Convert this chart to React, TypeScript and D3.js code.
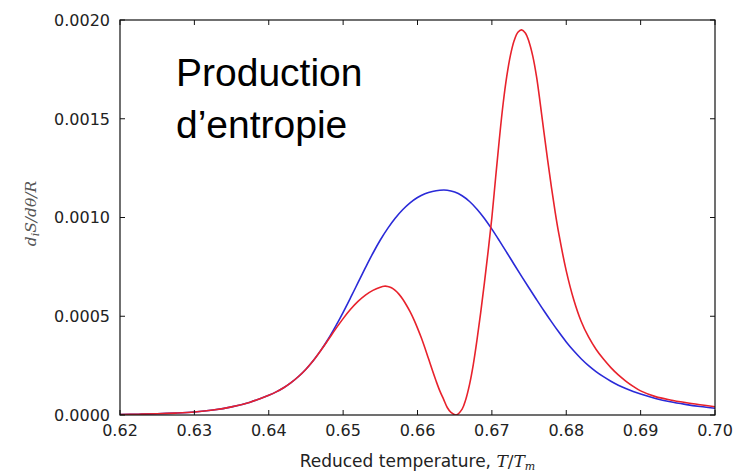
import React from "react";
import * as d3 from "d3";

// Reduced temperature T/Tm samples and entropy production d_iS/dθ/R
const blueT = [0.620, 0.6225, 0.625, 0.6275, 0.630, 0.6325, 0.635, 0.6375, 0.640, 0.641, 0.642, 0.643, 0.644, 0.645, 0.646, 0.647, 0.648, 0.649, 0.650, 0.651, 0.652, 0.653, 0.654, 0.655, 0.656, 0.657, 0.658, 0.659, 0.660, 0.661, 0.662, 0.663, 0.664, 0.665, 0.666, 0.667, 0.668, 0.669, 0.670, 0.671, 0.672, 0.673, 0.674, 0.675, 0.676, 0.677, 0.678, 0.679, 0.680, 0.681, 0.682, 0.683, 0.684, 0.685, 0.686, 0.687, 0.688, 0.689, 0.690, 0.692, 0.694, 0.696, 0.698, 0.700];
const blueS = [2.5e-6, 4e-6, 6e-6, 9.5e-6, 15e-6, 25e-6, 41e-6, 65e-6, 100e-6, 117e-6, 138e-6, 164e-6, 195e-6, 232e-6, 276e-6, 327e-6, 385e-6, 450e-6, 520e-6, 594e-6, 670e-6, 746e-6, 819e-6, 886e-6, 945e-6, 996e-6, 1039e-6, 1074e-6, 1101e-6, 1120e-6, 1132e-6, 1138e-6, 1138e-6, 1129e-6, 1110e-6, 1081e-6, 1042e-6, 995e-6, 941e-6, 883e-6, 823e-6, 762e-6, 702e-6, 643e-6, 585e-6, 528e-6, 473e-6, 420e-6, 370e-6, 325e-6, 285e-6, 250e-6, 220e-6, 194e-6, 171e-6, 151e-6, 134e-6, 119e-6, 106e-6, 84e-6, 67e-6, 54e-6, 43e-6, 34e-6];

const redT = [0.620, 0.6225, 0.625, 0.6275, 0.630, 0.6325, 0.635, 0.6375, 0.640, 0.641, 0.642, 0.643, 0.644, 0.645, 0.646, 0.647, 0.648, 0.649, 0.650, 0.651, 0.652, 0.653, 0.654, 0.655, 0.6555, 0.656, 0.6565, 0.657, 0.6575, 0.658, 0.6585, 0.659, 0.6595, 0.660, 0.6605, 0.661, 0.6615, 0.662, 0.6625, 0.663, 0.6635, 0.664, 0.6645, 0.6652, 0.666, 0.6665, 0.667, 0.6675, 0.668, 0.6685, 0.669, 0.6695, 0.670, 0.6705, 0.671, 0.6715, 0.672, 0.6725, 0.673, 0.6735, 0.674, 0.6745, 0.675, 0.6755, 0.676, 0.6765, 0.677, 0.6775, 0.678, 0.6785, 0.679, 0.680, 0.681, 0.682, 0.683, 0.684, 0.685, 0.686, 0.687, 0.688, 0.689, 0.690, 0.692, 0.694, 0.696, 0.698, 0.700];
const redS = [2.5e-6, 4e-6, 6e-6, 9.5e-6, 15e-6, 25e-6, 41e-6, 65e-6, 100e-6, 117e-6, 138e-6, 164e-6, 195e-6, 232e-6, 276e-6, 327e-6, 381e-6, 436e-6, 488e-6, 535e-6, 575e-6, 607e-6, 631e-6, 647e-6, 652e-6, 651e-6, 644e-6, 631e-6, 612e-6, 587e-6, 557e-6, 523e-6, 484e-6, 440e-6, 392e-6, 339e-6, 283e-6, 226e-6, 172e-6, 122e-6, 80e-6, 38e-6, 13e-6, 0, 30e-6, 80e-6, 155e-6, 255e-6, 380e-6, 520e-6, 670e-6, 830e-6, 1000e-6, 1200e-6, 1395e-6, 1572e-6, 1714e-6, 1822e-6, 1896e-6, 1938e-6, 1950e-6, 1934e-6, 1889e-6, 1817e-6, 1714e-6, 1578e-6, 1432e-6, 1290e-6, 1155e-6, 1030e-6, 918e-6, 730e-6, 585e-6, 475e-6, 395e-6, 333e-6, 283e-6, 240e-6, 203e-6, 172e-6, 145e-6, 122e-6, 93e-6, 76e-6, 63e-6, 52e-6, 42e-6];

const xTicks = [0.62, 0.63, 0.64, 0.65, 0.66, 0.67, 0.68, 0.69, 0.70];
const yTicks = [0.0, 0.0005, 0.001, 0.0015, 0.002];

const W = 733;
const H = 475;
const M = { left: 120, right: 18, top: 20, bottom: 60 };

export default function App() {
  const x = d3.scaleLinear().domain([0.62, 0.70]).range([M.left, W - M.right]);
  const y = d3.scaleLinear().domain([0, 0.002]).range([H - M.bottom, M.top]);

  const line = d3
    .line<[number, number]>()
    .x((d) => x(d[0]))
    .y((d) => y(d[1]))
    .curve(d3.curveCatmullRom.alpha(0.5));

  const blue = blueT.map((t, i) => [t, blueS[i]] as [number, number]);
  const red = redT.map((t, i) => [t, redS[i]] as [number, number]);

  const x0 = M.left;
  const x1 = W - M.right;
  const y0 = H - M.bottom;
  const y1 = M.top;
  const tick = 5;
  const sans = "'DejaVu Sans', sans-serif";
  const serif = "'DejaVu Serif', serif";

  return (
    <svg
      width={W}
      height={H}
      style={{ position: "absolute", left: 0, top: 0, background: "#fff" }}
    >
      <rect x={0} y={0} width={W} height={H} fill="#fff" />
      <defs>
        <clipPath id="plot">
          <rect x={x0} y={y1 - 2} width={x1 - x0} height={y0 - y1 + 2} />
        </clipPath>
      </defs>

      <g clipPath="url(#plot)" fill="none" strokeLinejoin="round">
        <path d={line(blue) ?? ""} stroke="#2a2ad8" strokeWidth={1.6} />
        <path d={line(red) ?? ""} stroke="#e8222c" strokeWidth={1.6} />
      </g>

      {/* frame */}
      <rect x={x0} y={y1} width={x1 - x0} height={y0 - y1} fill="none" stroke="#111" strokeWidth={1.2} />

      {/* x ticks (inward, bottom and top) */}
      {xTicks.map((t) => (
        <g key={"x" + t}>
          <line x1={x(t)} x2={x(t)} y1={y0} y2={y0 - tick} stroke="#111" />
          <line x1={x(t)} x2={x(t)} y1={y1} y2={y1 + tick} stroke="#111" />
          <text
            x={x(t)}
            y={y0 + 21}
            textAnchor="middle"
            fontFamily={sans}
            fontSize={16}
            fill="#222"
          >
            {t.toFixed(2)}
          </text>
        </g>
      ))}

      {/* y ticks (inward, left and right) */}
      {yTicks.map((t) => (
        <g key={"y" + t}>
          <line x1={x0} x2={x0 + tick} y1={y(t)} y2={y(t)} stroke="#111" />
          <line x1={x1} x2={x1 - tick} y1={y(t)} y2={y(t)} stroke="#111" />
          <text
            x={x0 - 10}
            y={y(t)}
            dy="0.36em"
            textAnchor="end"
            fontFamily={sans}
            fontSize={16}
            fill="#222"
          >
            {t.toFixed(4)}
          </text>
        </g>
      ))}

      {/* axis titles */}
      <text
        x={(x0 + x1) / 2}
        y={H - 8}
        textAnchor="middle"
        fontFamily={sans}
        fontSize={17}
        fill="#222"
      >
        Reduced temperature,{" "}
        <tspan fontFamily={serif} fontStyle="italic">T</tspan>
        <tspan fontFamily={serif}>/</tspan>
        <tspan fontFamily={serif} fontStyle="italic">T</tspan>
        <tspan fontFamily={serif} fontStyle="italic" fontSize={11} dy={3}>m</tspan>
      </text>

      <text
        transform={`translate(36, ${(y0 + y1) / 2 - 4}) rotate(-90)`}
        textAnchor="middle"
        fontFamily={serif}
        fontStyle="italic"
        fontSize={15.5}
        fill="#555"
      >
        d<tspan fontSize={11} dy={3}>i</tspan>
        <tspan dy={-3}>S/dθ/R</tspan>
      </text>

      {/* annotation */}
      <text
        x={176}
        y={86}
        fontFamily="'Liberation Sans', Arial, sans-serif"
        fontSize={39}
        fill="#000"
      >
        <tspan x={176}>Production</tspan>
        <tspan x={176} dy={52}>d’entropie</tspan>
      </text>
    </svg>
  );
}
